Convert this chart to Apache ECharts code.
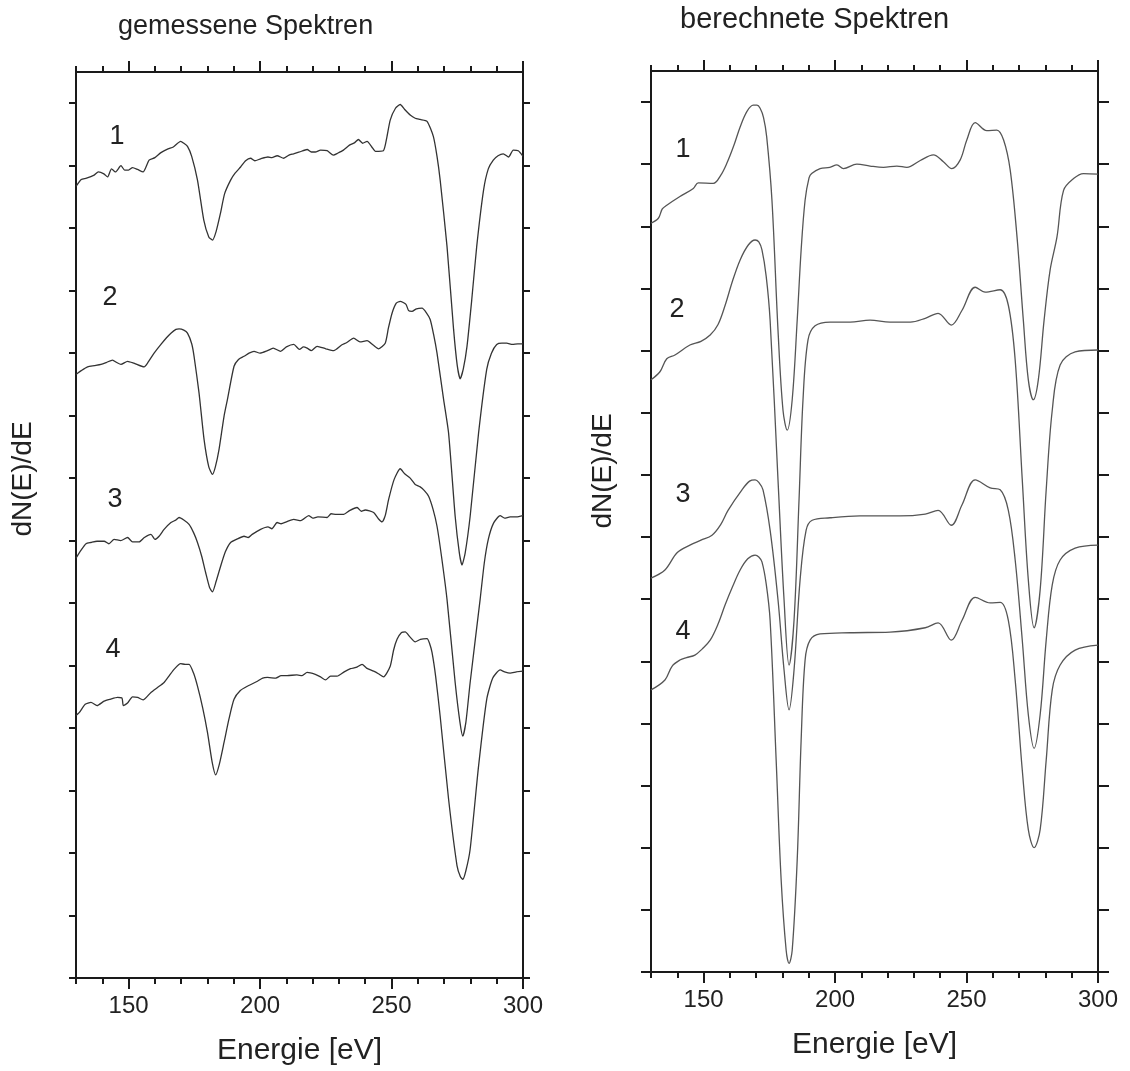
<!DOCTYPE html>
<html><head><meta charset="utf-8">
<script src="https://cdn.jsdelivr.net/npm/echarts@6/dist/echarts.min.js"></script>
<style>html,body{margin:0;padding:0;background:#fff}#c{width:1130px;height:1071px}</style>
</head><body><div id="c"></div>
<script>
// x: energy in eV, y: dN(E)/dE in tick units (arbitrary, 0..14.5)
const xMajorTicks = [150, 200, 250, 300];
const xMinorTicks = [130,140,150,160,170,180,190,200,210,220,230,240,250,260,270,280,290,300];
const yTicks = [0,1,2,3,4,5,6,7,8,9,10,11,12,13,14];
const panelTitles = ['gemessene Spektren', 'berechnete Spektren'];
const curveNames = ['1', '2', '3', '4'];

const measured1 = [[130,12.67],[132,12.78],[134,12.8],[136.9,12.85],[138.5,12.9],[140.6,12.87],[142,12.82],[143.5,12.95],[145,12.9],[147.1,13.0],[148.5,12.93],[150,12.93],[151.5,12.97],[153.4,12.94],[155.5,12.9],[157.8,13.09],[160,13.13],[162.3,13.21],[165,13.27],[167,13.3],[169.8,13.39],[171,13.36],[172.4,13.31],[174,13.15],[176.2,12.77],[178.6,12.13],[180.5,11.86],[181.9,11.81],[183.3,11.95],[185.0,12.25],[186.5,12.55],[188.8,12.77],[190.5,12.88],[192.6,12.98],[194.5,13.08],[196.4,13.12],[198,13.08],[200.2,13.11],[203,13.14],[204.5,13.13],[206.5,13.16],[209,13.12],[211,13.17],[212.7,13.19],[215,13.22],[217.9,13.26],[219.5,13.22],[221,13.22],[223,13.25],[225.5,13.24],[227.9,13.17],[229.5,13.2],[231.7,13.25],[234,13.33],[236,13.37],[237.4,13.42],[239,13.36],[240.7,13.39],[242.5,13.3],[243.9,13.23],[246.9,13.24],[248.2,13.45],[249.5,13.73],[251.5,13.92],[253.3,13.98],[255,13.9],[257.1,13.81],[259,13.76],[260.9,13.74],[263.5,13.71],[265.9,13.47],[267.3,13.15],[268.5,12.77],[271.1,11.71],[273.6,10.38],[275,9.8],[276.1,9.59],[277.3,9.75],[278.7,10.11],[280.5,10.85],[282.4,11.71],[285.0,12.61],[286.8,12.95],[288.7,13.09],[290.5,13.16],[292.5,13.19],[294.5,13.14],[296.3,13.25],[298.2,13.24],[300,13.15]];
const measured2 = [[130,9.66],[132,9.72],[134.4,9.78],[137,9.8],[139.5,9.82],[141.5,9.85],[143.9,9.89],[145.5,9.85],[147.1,9.82],[149.6,9.87],[152,9.84],[155.9,9.78],[157.5,9.86],[159.7,10.0],[162.3,10.14],[164.5,10.25],[166.1,10.32],[168,10.38],[169.2,10.39],[171,10.37],[172.4,10.32],[174,10.15],[174.9,9.95],[176.8,9.36],[178.7,8.62],[180.5,8.18],[181.9,8.06],[183,8.18],[184.4,8.46],[186.3,8.99],[187.6,9.26],[190.1,9.79],[191.8,9.9],[193.9,9.95],[195.8,10.0],[197.7,10.03],[200,10.0],[202.8,10.04],[205,10.08],[207.8,10.03],[210,10.1],[212.8,10.14],[215,10.06],[216.5,10.1],[217.9,10.08],[219.5,10.04],[221.7,10.11],[225,10.07],[228.0,10.04],[231,10.13],[233,10.17],[235.6,10.24],[238,10.18],[240.7,10.20],[243,10.13],[245.1,10.07],[247.6,10.16],[248.8,10.4],[250.2,10.64],[251.8,10.8],[253.3,10.83],[255.5,10.78],[256.5,10.68],[257.8,10.67],[259.5,10.71],[261.6,10.72],[263.2,10.65],[264.7,10.54],[266,10.3],[267.3,10.0],[269.8,9.26],[271.7,8.72],[274.2,7.39],[275.8,6.8],[276.8,6.61],[278,6.8],[279.9,7.39],[283.1,8.72],[286.2,9.74],[288,10.0],[290.0,10.14],[292,10.16],[293.8,10.16],[296,10.14],[298,10.15],[300,10.15]];
const measured3 = [[130,6.72],[132,6.85],[133.8,6.95],[135.7,6.97],[138,6.99],[140.7,6.99],[142.5,6.95],[144.5,7.02],[147,7.0],[149.6,7.05],[151.5,6.98],[152.5,6.98],[154.0,6.98],[156,7.05],[158.5,7.10],[160,7.02],[161.6,7.07],[163.5,7.18],[166.1,7.29],[168,7.33],[169.2,7.37],[171,7.33],[173.0,7.26],[174.8,7.12],[176.2,6.97],[177.8,6.75],[179.3,6.49],[180.8,6.25],[181.9,6.18],[183.3,6.35],[185.0,6.59],[186.8,6.82],[188.8,6.97],[191,7.02],[193.9,7.07],[195.5,7.05],[197,7.1],[200.2,7.18],[203,7.22],[204.5,7.19],[206.5,7.29],[208,7.27],[210,7.3],[212.8,7.34],[215.5,7.32],[218.5,7.40],[220,7.36],[222,7.38],[225.5,7.37],[227,7.43],[229,7.42],[231.8,7.42],[234,7.48],[236.9,7.53],[238.5,7.47],[240,7.49],[243.2,7.45],[245,7.35],[246.4,7.30],[247.6,7.4],[248.9,7.66],[251,7.98],[253.3,8.15],[255,8.07],[257.1,8.0],[259,7.9],[260.9,7.86],[262.5,7.8],[264.1,7.71],[265.8,7.5],[267.3,7.23],[269,6.75],[271.1,6.06],[274.2,4.73],[276,4.1],[277.1,3.87],[278.3,4.1],[279.9,4.73],[283.7,6.06],[285.3,6.65],[286.8,7.02],[288.8,7.28],[291.3,7.40],[293,7.36],[295.1,7.38],[297.5,7.38],[300,7.40]];
const measured4 = [[130,4.2],[131.3,4.25],[133.5,4.38],[135.7,4.41],[138,4.36],[140.7,4.43],[143,4.46],[145.8,4.49],[147.5,4.48],[148,4.36],[149.6,4.40],[151.5,4.5],[153.4,4.49],[155.5,4.45],[158.5,4.57],[161,4.65],[163.5,4.73],[165.5,4.84],[167.3,4.94],[169.8,5.03],[171.5,5.02],[173.0,5.02],[174.7,4.88],[176.2,4.67],[178.2,4.32],[180.0,3.93],[181.8,3.45],[183.1,3.25],[184.5,3.42],[186.3,3.77],[188.2,4.15],[190.1,4.46],[192.5,4.6],[195.2,4.67],[199,4.75],[201,4.8],[202.8,4.81],[206,4.8],[208,4.84],[210.3,4.84],[214,4.85],[216,4.84],[217.9,4.89],[221,4.86],[223,4.82],[224.9,4.77],[226.8,4.83],[229.3,4.83],[232,4.9],[234.4,4.95],[236.5,4.97],[238.8,5.02],[240.5,4.96],[243.2,4.91],[245,4.87],[247.0,4.82],[249.5,4.99],[250.8,5.25],[252.1,5.42],[253.8,5.53],[255.2,5.54],[257,5.46],[259.0,5.38],[261,5.42],[263.5,5.43],[264.5,5.35],[265.4,5.21],[266.8,4.82],[268.5,4.19],[271.7,2.86],[274.9,1.80],[276.2,1.62],[277.1,1.58],[278.3,1.72],[279.9,2.06],[283.1,3.39],[286.2,4.46],[288.5,4.8],[291.3,4.93],[293,4.9],[295.1,4.88],[297.5,4.9],[300,4.91]];

const calc1 = [[130,12.05],[132.8,12.13],[134.3,12.28],[136.0,12.34],[141.0,12.48],[146.1,12.61],[148,12.7],[153.7,12.69],[156.5,12.82],[158.8,13.01],[161.5,13.3],[163.9,13.60],[166.5,13.85],[168.9,13.95],[170.3,13.95],[171.5,13.90],[172.8,13.75],[174.0,13.44],[176.0,12.42],[178.3,10.33],[180.2,9.04],[181.8,8.72],[183.7,9.21],[185.6,10.49],[187.1,11.62],[188.6,12.42],[190.1,12.78],[191.1,12.85],[194.3,12.93],[198,12.95],[200.7,12.99],[203.2,12.93],[208.3,13.0],[213.3,12.97],[218.4,12.95],[223.5,12.97],[227.3,12.95],[232.4,13.06],[237.4,13.15],[241.2,13.04],[244.4,12.93],[247.6,13.07],[250.1,13.39],[253.3,13.67],[257.7,13.54],[261.5,13.55],[264.1,13.39],[266.6,12.91],[269.2,11.83],[271.6,10.49],[273.5,9.53],[275.4,9.21],[277.3,9.53],[279.5,10.49],[281.8,11.30],[284.4,11.83],[286.9,12.58],[290.7,12.77],[294.5,12.85],[300,12.84]];
const calc2 = [[130,9.53],[133.4,9.66],[136,9.87],[139.1,9.93],[144.8,10.09],[149,10.15],[152.5,10.25],[155.5,10.42],[158.2,10.73],[161,11.12],[163.9,11.46],[167,11.7],[169.6,11.78],[171,11.75],[172.2,11.62],[173.8,11.2],[175.3,10.49],[178.3,7.92],[180.6,5.99],[182.5,4.94],[184.4,5.66],[186.3,7.60],[187.8,9.20],[189.7,10.17],[192.4,10.40],[198.1,10.46],[205.7,10.46],[213.3,10.49],[220.9,10.46],[228.6,10.46],[234.3,10.52],[239.2,10.60],[244.2,10.41],[248.3,10.65],[253.3,11.02],[257.1,10.94],[262.8,10.98],[265.9,10.73],[268.5,9.85],[271.2,7.92],[273.5,6.31],[275.7,5.54],[278.0,6.15],[280.3,7.76],[282.6,9.04],[285.6,9.77],[291.3,9.98],[300,10.01]];
const calc3 = [[130,6.34],[135.3,6.47],[140,6.75],[144.8,6.87],[149,6.95],[153.2,7.03],[156.5,7.2],[159.3,7.43],[164.6,7.76],[167.5,7.9],[169.6,7.92],[171,7.88],[172.6,7.76],[175.3,7.11],[178.3,5.99],[180.6,4.86],[182.5,4.22],[184.4,4.86],[186.7,6.31],[189.0,7.11],[191.3,7.27],[198.1,7.31],[209.5,7.34],[224.7,7.34],[234.3,7.37],[239.2,7.43],[244.2,7.19],[248.3,7.52],[253.3,7.92],[259.0,7.79],[262.8,7.76],[265.9,7.43],[268.5,6.63],[271.2,5.34],[273.5,4.14],[275.7,3.60],[278.0,4.14],[280.3,5.34],[282.6,6.23],[285.6,6.63],[291.3,6.82],[300,6.87]];
const calc4 = [[130,4.54],[135.3,4.70],[138,4.92],[141.0,5.02],[143.5,5.06],[146.7,5.10],[149.5,5.2],[152.5,5.34],[155.5,5.6],[158.2,5.91],[161,6.2],[163.9,6.47],[166.8,6.65],[169.6,6.71],[171,6.68],[172.2,6.60],[173.8,6.25],[175.3,5.66],[177.6,3.41],[179.5,1.48],[181.4,0.35],[182.5,0.14],[183.7,0.35],[185.6,1.80],[187.1,3.73],[188.6,5.02],[190.5,5.34],[194.3,5.44],[205.7,5.46],[220.9,5.47],[234.3,5.54],[239.2,5.62],[244.2,5.34],[248.3,5.66],[253.3,6.03],[259.0,5.94],[262.8,5.95],[265.9,5.66],[268.5,4.70],[271.2,3.25],[273.5,2.29],[275.7,2.00],[278.0,2.29],[280.3,3.41],[282.6,4.54],[285.6,4.94],[291.3,5.18],[300,5.26]];

const measuredSeries = [measured1, measured2, measured3, measured4];
const calcSeries = [calc1, calc2, calc3, calc4];

const FONT = '"Liberation Sans", Arial, Helvetica, sans-serif';
const AX = '#1a1a1a';

function xAxes(grid, pos, major, withLabels) {
  return {
    type: 'value', gridIndex: grid, position: pos, min: 130, max: 300,
    axisLine: { show: major, lineStyle: { color: AX, width: 2 } },
    splitLine: { show: false },
    axisTick: { show: true, inside: false, length: major ? 11 : 6, lineStyle: { color: AX, width: 2 },
      customValues: major ? xMajorTicks : xMinorTicks },
    axisLabel: { show: withLabels, customValues: xMajorTicks, margin: 16,
      fontFamily: FONT, fontSize: 24, color: '#222' },
    name: withLabels ? 'Energie [eV]' : '', nameLocation: 'middle', nameGap: 58,
    nameTextStyle: { fontFamily: FONT, fontSize: 30, color: '#222' }
  };
}
function yAxisDef(grid, pos, len) {
  return {
    type: 'value', gridIndex: grid, position: pos, min: 0, max: 14.5,
    axisLine: { show: true, lineStyle: { color: AX, width: 2 } },
    splitLine: { show: false },
    axisTick: { show: true, inside: false, length: len, lineStyle: { color: AX, width: 2 }, customValues: yTicks },
    axisLabel: { show: false }
  };
}

const series = [];
measuredSeries.forEach((d, i) => series.push({
  type: 'line', name: 'gemessen ' + curveNames[i], xAxisIndex: 0, yAxisIndex: 0, data: d,
  showSymbol: false, smooth: 0.2, lineStyle: { color: '#333', width: 1.3 }, silent: true, animation: false
}));
calcSeries.forEach((d, i) => series.push({
  type: 'line', name: 'berechnet ' + curveNames[i], xAxisIndex: 4, yAxisIndex: 2, data: d,
  showSymbol: false, smooth: 0.35, lineStyle: { color: '#555', width: 1.3 }, silent: true, animation: false
}));

const labelPos = [[[117,137],[110,298],[115,500],[113,650]], [[683,150],[677,310],[683,495],[683,632]]];
const graphic = [];
labelPos.forEach((panel, p) => panel.forEach((xy, i) => graphic.push({
  type: 'text', x: xy[0], y: xy[1],
  style: { text: curveNames[i], font: '27px ' + FONT, fill: '#222', textAlign: 'center', textVerticalAlign: 'middle' }
})));
graphic.push({ type: 'text', x: 118, y: 27, style: { text: panelTitles[0], font: '27px ' + FONT, fill: '#222', textAlign: 'left', textVerticalAlign: 'middle' } });
graphic.push({ type: 'text', x: 680, y: 20, style: { text: panelTitles[1], font: '29px ' + FONT, fill: '#222', textAlign: 'left', textVerticalAlign: 'middle' } });
graphic.push({ type: 'text', x: 23, y: 479, rotation: Math.PI / 2, style: { text: 'dN(E)/dE', font: '28px ' + FONT, fill: '#222', textAlign: 'center', textVerticalAlign: 'middle' } });
graphic.push({ type: 'text', x: 603, y: 471, rotation: Math.PI / 2, style: { text: 'dN(E)/dE', font: '28px ' + FONT, fill: '#222', textAlign: 'center', textVerticalAlign: 'middle' } });

const option = {
  backgroundColor: '#fff',
  animation: false,
  grid: [
    { left: 76, width: 447, top: 72, height: 907, containLabel: false },
    { left: 651, width: 447, top: 71, height: 901, containLabel: false }
  ],
  xAxis: [
    xAxes(0, 'bottom', true, true), xAxes(0, 'bottom', false, false),
    xAxes(0, 'top', true, false), xAxes(0, 'top', false, false),
    xAxes(1, 'bottom', true, true), xAxes(1, 'bottom', false, false),
    xAxes(1, 'top', true, false), xAxes(1, 'top', false, false)
  ],
  yAxis: [
    yAxisDef(0, 'left', 7), yAxisDef(0, 'right', 7),
    yAxisDef(1, 'left', 10), yAxisDef(1, 'right', 11)
  ],
  graphic: graphic,
  series: series
};
const chart = echarts.init(document.getElementById('c'), null, { renderer: 'canvas' });
chart.setOption(option);
</script></body></html>
